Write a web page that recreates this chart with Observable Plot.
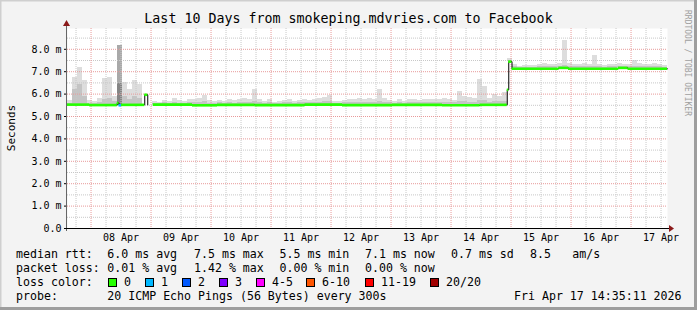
<!DOCTYPE html>
<html><head><meta charset="utf-8">
<script src="https://cdn.jsdelivr.net/npm/d3@7"></script>
<script src="https://cdn.jsdelivr.net/npm/@observablehq/plot@0.6"></script>
<style>
html,body{margin:0;padding:0;background:#f3f3f3;}
#chart{width:697px;height:310px;position:relative;overflow:hidden;}
</style></head><body><div id="chart"></div>
<script>
// ---------------- data ----------------
const title = "Last 10 Days from smokeping.mdvries.com to Facebook";
const yAxisTitle = "Seconds";
const watermark = "RRDTOOL / TOBI OETIKER";
const startTime = "2026-04-07T14:35:11Z";
const endTime = "2026-04-17T14:35:11Z";
const binHours = 2;
const yTicks = [0, 1, 2, 3, 4, 5, 6, 7, 8];
const yMinor = [0.5, 1.5, 2.5, 3.5, 4.5, 5.5, 6.5, 7.5, 8.5];

// smoke (max ping) per 2-hour bin, ms
const smokeMax = [
5.71,6.75,7.20,6.60,5.70,5.68,5.82,6.70,6.72,5.90,
8.17,6.50,6.20,6.60,6.45,5.80,null,5.67,5.64,5.70,
5.67,5.79,5.70,5.67,5.74,5.77,5.82,5.92,5.70,5.67,
5.70,5.67,5.74,5.70,5.74,5.82,5.74,6.22,5.74,5.67,
5.74,5.64,5.67,5.70,5.74,5.67,5.70,5.74,5.72,5.77,
5.82,5.85,5.92,5.67,5.67,5.70,5.74,5.77,5.82,5.74,
5.82,5.77,6.19,5.82,5.70,5.67,5.74,5.67,5.74,5.77,
5.70,5.74,5.77,5.74,5.77,5.82,5.77,5.70,6.11,5.89,
5.85,5.82,6.64,6.34,5.82,5.97,5.89,6.07,7.60,7.31,
7.23,7.26,7.26,7.27,7.31,7.35,7.34,7.31,7.38,8.39,
7.35,7.31,7.34,7.35,7.31,7.71,7.31,7.27,7.31,7.31,
7.38,7.31,7.34,7.50,7.35,7.31,7.31,7.35,7.31,7.27
];
// denser smoke (upper quartile) per 2-hour bin, ms
const smokeMid = [
5.60,6.20,6.45,5.90,5.60,5.60,5.62,5.75,5.80,5.65,
6.49,5.90,5.75,5.90,5.80,5.60,null,5.60,5.60,5.62,
5.60,5.63,5.60,5.60,5.62,5.63,5.64,5.65,5.60,5.60,
5.61,5.60,5.62,5.60,5.62,5.64,5.62,5.66,5.62,5.60,
5.62,5.59,5.60,5.61,5.62,5.60,5.61,5.62,5.62,5.63,
5.64,5.65,5.66,5.60,5.60,5.61,5.62,5.63,5.64,5.62,
5.64,5.63,5.66,5.64,5.61,5.60,5.62,5.60,5.62,5.63,
5.61,5.62,5.63,5.62,5.63,5.64,5.63,5.61,5.68,5.65,
5.64,5.64,5.72,5.70,5.64,5.66,5.65,5.66,7.50,7.21,
7.19,7.20,7.20,7.20,7.21,7.22,7.22,7.21,7.23,7.26,
7.22,7.21,7.22,7.22,7.21,7.25,7.21,7.20,7.21,7.21,
7.23,7.21,7.22,7.24,7.22,7.21,7.21,7.22,7.21,7.20
];
// bins with packet loss: [bin, lossLevel]
const lossBins = [[10, 1]];

// median rtt change points: [hours since start, ms, loss index (null = no data)]
const medianChanges = [
[0, 5.53, 0], [8.8, 5.51, 0], [19.9, 5.60, 0], [20.6, 5.50, 1], [21.6, 5.52, 0],
[30.9, 5.97, 0], [32.1, 5.52, null], [34.3, 5.53, 0], [50, 5.50, 0], [60, 5.52, 0],
[75, 5.51, 0], [95, 5.53, 0], [110, 5.51, 0], [130, 5.52, 0], [150, 5.50, 0],
[165, 5.52, 0], [175.9, 6.19, 0], [176.5, 7.45, 0], [177.8, 7.13, 0], [196.5, 7.17, 0],
[200.4, 7.13, 0], [220.4, 7.17, 0], [224.2, 7.13, 0]
];

const lossLegend = [["0","#26ff00"],["1","#00b8ff"],["2","#0059ff"],["3","#7e00ff"],
  ["4-5","#ff00ff"],["6-10","#ff5500"],["11-19","#ff0000"],["20/20","#a10000"]];
const rttRow = ["median rtt:", "6.0 ms avg", "7.5 ms max", "5.5 ms min", "7.1 ms now", "0.7 ms sd", "8.5", "am/s"];
const lossRow = ["packet loss:", "0.01 % avg", "1.42 % max", "0.00 % min", "0.00 % now"];
const lossColorLabel = "loss color:";
const probeLabel = "probe:";
const probeText = "20 ICMP Echo Pings (56 Bytes) every 300s";
const dateText = "Fri Apr 17 14:35:11 2026";

// ---------------- build ----------------
const start = new Date(startTime), end = new Date(endTime);
const HOUR = 3600e3;
const at = h => new Date(+start + h * HOUR);
const totalH = (end - start) / HOUR;
const lossColor = i => lossLegend[i][1];

function medianAt(h) {
  let v = medianChanges[0][1];
  for (const c of medianChanges) if (c[0] <= h) v = c[1];
  return v;
}
const lossOf = new Map(lossBins);

const smokeRows = smokeMax.map((top, i) => {
  if (top == null) return null;
  const base = Math.min(medianAt(i * binHours + binHours / 2), top);
  const lossy = lossOf.has(i);
  return {t0: at(i * binHours), t1: at((i + 1) * binHours), base, top,
          mid: Math.max(base, smokeMid[i]),
          light: lossy ? "#a9a9a9" : "#dddddd",
          dark: lossy ? "#858585" : "#c4c4c4"};
}).filter(d => d);

const segs = medianChanges.map((c, i) => ({
  x1: at(c[0]), x2: at(i + 1 < medianChanges.length ? medianChanges[i + 1][0] : totalH),
  y: c[1], loss: c[2]
})).filter(d => d.loss != null).map(d => ({...d, color: lossColor(d.loss)}));

const linePts = [];
medianChanges.forEach((c, i) => {
  linePts.push({t: at(c[0]), v: c[1]});
  if (c[2] == null) linePts.push({t: at(c[0] + 0.01), v: null});
});
linePts.push({t: end, v: medianChanges[medianChanges.length - 1][1]});

const majorX = d3.utcDay.range(start, end);
const minorX = d3.utcHour.every(6).range(start, end).filter(d => d.getUTCHours() !== 0);
const labelX = majorX.map(d => d3.utcHour.offset(d, 12));

const FONT = "DejaVu Sans Mono";
const yMax = 200 / 22.4;

const plot = Plot.plot({
  width: 697, height: 310,
  marginLeft: 67, marginRight: 30, marginTop: 28, marginBottom: 82,
  style: {background: "transparent", fontFamily: FONT, fontSize: "10px", color: "#000", overflow: "visible"},
  x: {type: "utc", domain: [start, end]},
  y: {domain: [0, yMax]},
  color: {type: "identity"},
  marks: [
    Plot.frame({fill: "white", stroke: "none"}),
    Plot.rect(smokeRows, {x1: "t0", x2: "t1", y1: "base", y2: "top", fill: "light", shapeRendering: "crispEdges"}),
    Plot.rect(smokeRows, {x1: "t0", x2: "t1", y1: "base", y2: "mid", fill: "dark", shapeRendering: "crispEdges"}),
    Plot.ruleX(minorX, {stroke: "#c8c8c8", strokeDasharray: "1,1"}),
    Plot.ruleY(yMinor, {stroke: "#c8c8c8", strokeDasharray: "1,1"}),
    Plot.ruleX(majorX, {stroke: "#e89a9a", strokeDasharray: "1,1"}),
    Plot.ruleY(yTicks.filter(d => d > 0), {stroke: "#e89a9a", strokeDasharray: "1,1"}),
    Plot.line(linePts, {x: "t", y: "v", curve: "step-after", stroke: "#000", strokeWidth: 1}),
    Plot.ruleY(segs, {x1: "x1", x2: "x2", y: "y", stroke: "color", strokeWidth: 2.6}),
    Plot.axisY(yTicks, {tickSize: 3, tickPadding: 3, label: null,
      tickFormat: d => d === 0 ? "0.0" : d.toFixed(1) + " m"}),
    Plot.axisX(labelX, {tickSize: 0, tickPadding: 5, label: null, tickFormat: "%d %b"})
  ]
});
document.getElementById("chart").appendChild(plot);

// ---------------- decorations ----------------
const svg = d3.select(plot);
const xs = plot.scale("x"), ys = plot.scale("y");
const X0 = xs.apply(start), X1 = xs.apply(end), Y0 = ys.apply(0), YT = ys.apply(yMax);

// axis lines + arrows
svg.append("line").attr("x1", X0 - 0.5).attr("x2", X0 - 0.5).attr("y1", Y0 + 3).attr("y2", YT - 4)
  .attr("stroke", "#666").attr("stroke-width", 1);
svg.append("line").attr("x1", X0 - 3).attr("x2", X1 + 3).attr("y1", Y0 + 0.5).attr("y2", Y0 + 0.5)
  .attr("stroke", "#000").attr("stroke-width", 1);
svg.append("path").attr("d", `M${X0 - 4},${YT - 2} L${X0 + 3},${YT - 2} L${X0 - 0.5},${YT - 8} Z`).attr("fill", "#8b1a1a");
svg.append("path").attr("d", `M${X1 + 2},${Y0 - 3} L${X1 + 2},${Y0 + 4} L${X1 + 7},${Y0 + 0.5} Z`).attr("fill", "#8b1a1a");

// frame shading
svg.append("rect").attr("x", 0).attr("y", 0).attr("width", 697).attr("height", 1.5).attr("fill", "#cfcfcf");
svg.append("rect").attr("x", 0).attr("y", 0).attr("width", 1.5).attr("height", 310).attr("fill", "#cfcfcf");
svg.append("rect").attr("x", 694).attr("y", 0).attr("width", 3).attr("height", 310).attr("fill", "#9e9e9e");
svg.append("rect").attr("x", 0).attr("y", 307).attr("width", 697).attr("height", 3).attr("fill", "#9e9e9e");

const txt = (x, y, s, opts = {}) => svg.append("text")
  .attr("x", x).attr("y", y).attr("font-family", FONT)
  .attr("font-size", opts.size || "11.6px").attr("fill", opts.fill || "#000")
  .attr("text-anchor", opts.anchor || "start").attr("xml:space", "preserve").text(s);

txt(348.5, 23, title, {size: "13.3px", anchor: "middle"});
svg.append("text").attr("transform", "translate(15,128) rotate(-90)").attr("text-anchor", "middle")
  .attr("font-family", FONT).attr("font-size", "11px").text(yAxisTitle);
svg.append("text").attr("transform", "translate(685,10) rotate(90)").attr("text-anchor", "start")
  .attr("font-family", FONT).attr("font-size", "8px").attr("fill", "#a0a0a0").text(watermark);

const cols = [16, 107.3, 194, 279.5, 365, 451, 530, 572.3];
rttRow.forEach((s, i) => txt(cols[i], 258, s));
lossRow.forEach((s, i) => txt(cols[i], 272, s));
txt(16, 286, lossColorLabel);
const boxX = [108.5, 145.5, 182.5, 219.5, 256.5, 306.5, 365.5, 430.5];
lossLegend.forEach(([lab, col], i) => {
  svg.append("rect").attr("x", boxX[i]).attr("y", 278.5).attr("width", 8).attr("height", 8)
    .attr("fill", col).attr("stroke", "#000").attr("stroke-width", 1);
  txt(boxX[i] + 15.5, 286, lab);
});
txt(16, 300, probeLabel);
txt(107.3, 300, probeText);
txt(514, 300, dateText);
</script></body></html>
